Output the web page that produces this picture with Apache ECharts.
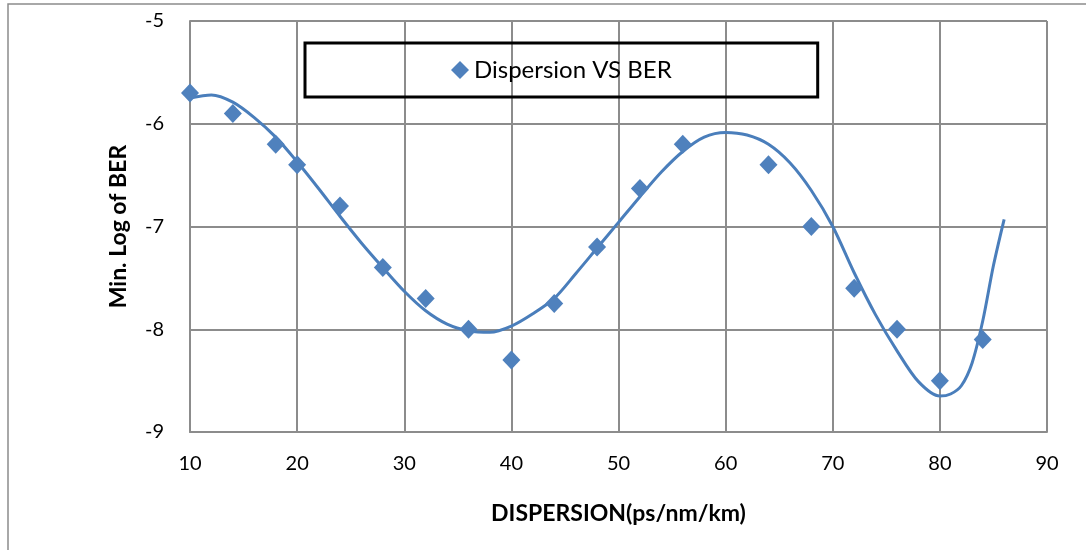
<!DOCTYPE html>
<html>
<head>
<meta charset="utf-8">
<script src="https://cdn.jsdelivr.net/npm/echarts@6/dist/echarts.min.js"></script>
<style>
  html, body { margin: 0; padding: 0; background: #fff; }
  #main { width: 1086px; height: 550px; }
</style>
</head>
<body>
<div id="main"></div>
<script>
// measured points (ps/nm/km vs min log BER)
const dispersion = [10, 14, 18, 20, 24, 28, 32, 36, 40, 44, 48, 52, 56, 64, 68, 72, 76, 80, 84];
const minLogBer = [-5.7, -5.9, -6.2, -6.4, -6.8, -7.4, -7.7, -8.0, -8.3, -7.75, -7.2, -6.63, -6.2, -6.4, -7.0, -7.6, -8.0, -8.5, -8.1];

// polynomial trendline
const trendX = [10, 12, 14, 16, 18, 20, 22, 24, 26, 28, 30, 32, 34, 36, 38, 40, 42, 44, 46, 48, 50,
  52, 54, 56, 58, 60, 62, 64, 66, 68, 70, 72, 74, 76, 78, 80, 81, 82, 83, 84, 85, 86];
const trendY = [-5.75, -5.72, -5.79, -5.94, -6.13, -6.37, -6.63, -6.90, -7.16, -7.40, -7.63,
  -7.82, -7.95, -8.015, -8.03, -7.97, -7.85, -7.70, -7.46, -7.21, -6.96,
  -6.71, -6.47, -6.27, -6.13, -6.085, -6.11, -6.20, -6.38, -6.65, -7.00,
  -7.45, -7.86, -8.21, -8.51, -8.65, -8.63, -8.55, -8.33, -7.92, -7.38, -6.93];

const xTicks = [10, 20, 30, 40, 50, 60, 70, 80, 90];
const yTicks = [-9, -8, -7, -6, -5];

const font = "Lato, 'Open Sans', sans-serif";
const blue = "#4A7EBB";

const chart = echarts.init(document.getElementById("main"), null, { renderer: "canvas" });

const option = {
  animation: false,
  backgroundColor: "#fff",
  graphic: [
    {
      type: "rect",
      shape: { x: 8, y: 4, width: 1200, height: 700 },
      style: { fill: "none", stroke: "#8c8c8c", lineWidth: 1.5 },
      silent: true,
      z: -1
    }
  ],
  grid: { left: 190, right: 39, top: 21, bottom: 118 },
  legend: {
    data: ["Dispersion VS BER"],
    left: 305,
    top: 43,
    padding: [15, 146, 15, 146],
    borderColor: "#000",
    borderWidth: 3,
    itemWidth: 18,
    itemHeight: 18,
    itemStyle: { opacity: 1 },
    textStyle: { fontFamily: font, fontSize: 24, color: "#000" }
  },
  xAxis: {
    type: "value",
    min: xTicks[0],
    max: xTicks[xTicks.length - 1],
    interval: 10,
    name: "DISPERSION(ps/nm/km)",
    nameLocation: "middle",
    nameGap: 70,
    nameTextStyle: { fontFamily: font, fontSize: 23, fontWeight: "bold", color: "#000" },
    axisLine: { lineStyle: { color: "#8c8c8c", width: 2 } },
    axisTick: { show: false },
    axisLabel: { fontFamily: font, fontSize: 20, color: "#000", margin: 22 },
    splitLine: { lineStyle: { color: "#8c8c8c", width: 2 } }
  },
  yAxis: {
    type: "value",
    min: yTicks[0],
    max: yTicks[yTicks.length - 1],
    interval: 1,
    name: "Min. Log of BER",
    nameLocation: "middle",
    nameGap: 60,
    nameTextStyle: { fontFamily: font, fontSize: 23, fontWeight: "bold", color: "#000" },
    axisLine: { show: true, lineStyle: { color: "#8c8c8c", width: 2 } },
    axisTick: { show: false },
    axisLabel: { fontFamily: font, fontSize: 20, color: "#000", margin: 26 },
    splitLine: { lineStyle: { color: "#8c8c8c", width: 2 } }
  },
  series: [
    {
      name: "Trend",
      type: "line",
      data: trendX.map((x, i) => [x, trendY[i]]),
      smooth: 0.3,
      showSymbol: false,
      lineStyle: { color: blue, width: 3 },
      z: 2
    },
    {
      name: "Dispersion VS BER",
      type: "scatter",
      data: dispersion.map((x, i) => [x, minLogBer[i]]),
      symbol: "diamond",
      symbolSize: [18, 19],
      itemStyle: { color: "#4F81BD", opacity: 1 },
      z: 3
    }
  ]
};

chart.setOption(option);
</script>
</body>
</html>
